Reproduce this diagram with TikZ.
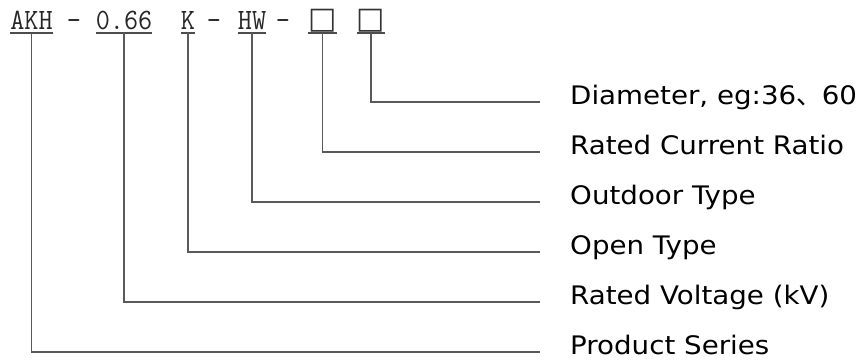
\documentclass[tikz,border=0pt]{standalone}
\usepackage{fontspec}
\newfontfamily\labfont[FakeStretch=1.086]{DejaVu Sans}
\newfontfamily\symfont{DejaVu Sans}
\newfontfamily\codefont[FakeStretch=0.93]{Latin Modern Mono}
\newfontfamily\cjk{Noto Sans CJK SC}
\begin{document}
\begin{tikzpicture}[x=1pt,y=1pt,
  code/.style={inner sep=0pt, anchor=base, text=black!85, font=\fontsize{29.5}{32}\selectfont\codefont},
  boxsym/.style={inner sep=0pt, anchor=base, text=black!80, font=\fontsize{30}{32}\selectfont\symfont},
  lab/.style={inner sep=0pt, anchor=mid west, font=\fontsize{25.5}{28}\selectfont\labfont},
  uline/.style={draw=black!70, line width=1.3pt},
  conn/.style={draw=black!65, line width=1.4pt}]
\useasboundingbox (0,0) rectangle (864,363);
% code segments
\node[code] (akh) at (31.5,333) {AKH};
\node[code] (d1) at (74,333) {-};
\node[code] (v) at (124,333) {0.66};
\node[code] (k) at (188,333) {K};
\node[code] (d2) at (214,333) {-};
\node[code] (hw) at (252,333) {HW};
\node[code] (d3) at (283,333) {-};
\node[boxsym] (b1) at (322.5,334.5) {□};
\node[boxsym] (b2) at (371,334.5) {□};
% underlines
\foreach \n in {akh,v,k,hw}
  \draw[uline] ([yshift=-3pt]\n.base west) -- ([yshift=-3pt]\n.base east);
\foreach \n in {b1,b2}
  \draw[uline] ([yshift=-4.5pt]\n.base west) -- ([yshift=-4.5pt]\n.base east);
% labels
\node[lab] (ld) at (570,261) {Diameter, eg:36{\cjk 、}60};
\node[lab] (lc) at (570,211) {Rated Current Ratio};
\node[lab] (lo) at (570,161) {Outdoor Type};
\node[lab] (lt) at (570,111) {Open Type};
\node[lab] (lv) at (570,61) {Rated Voltage (kV)};
\node[lab] (lp) at (570,11) {Product Series};
% connectors
\draw[conn] ([yshift=-5pt]b2.base) |- ([xshift=-30pt]ld.mid west);
\draw[conn] ([yshift=-5pt]b1.base) |- ([xshift=-30pt]lc.mid west);
\draw[conn] ([yshift=-3.5pt]hw.base) |- ([xshift=-30pt]lo.mid west);
\draw[conn] ([yshift=-3.5pt]k.base) |- ([xshift=-30pt]lt.mid west);
\draw[conn] ([yshift=-3.5pt]v.base) |- ([xshift=-30pt]lv.mid west);
\draw[conn] ([yshift=-3.5pt]akh.base) |- ([xshift=-30pt]lp.mid west);
\end{tikzpicture}
\end{document}
